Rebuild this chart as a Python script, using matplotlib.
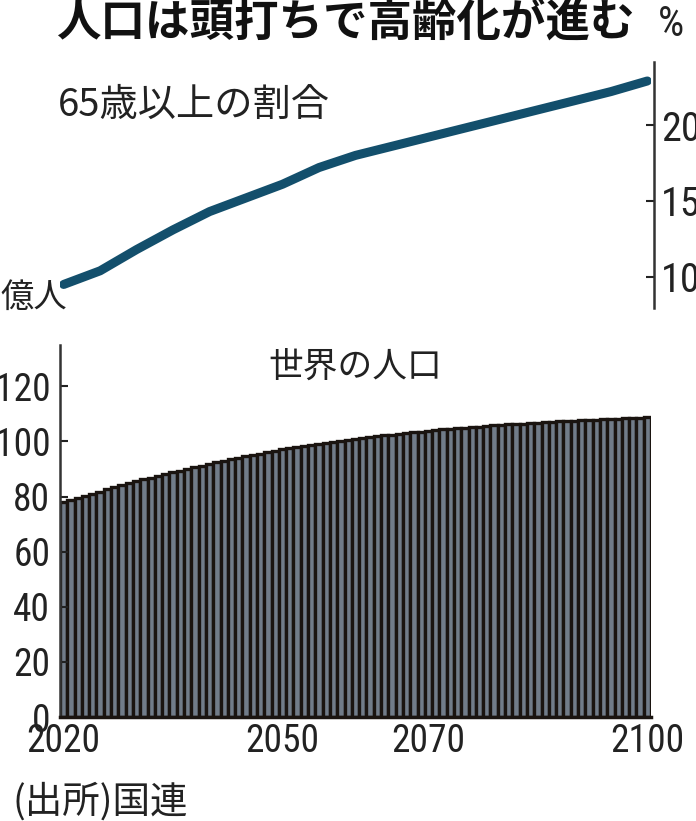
import matplotlib
matplotlib.use("Agg")
import matplotlib.pyplot as plt

plt.rcParams['font.family'] = ['Noto Sans CJK JP', 'DejaVu Sans']
NUM_FONT = ['Roboto Condensed', 'Liberation Sans Narrow', 'DejaVu Sans']

# world population, 100 million people (億人), 2020-2100
years = list(range(2020, 2101))
population = [
    77.9, 78.8, 79.5, 80.3, 81.1, 81.8, 82.6, 83.3, 84.1, 84.8,
    85.5, 86.2, 86.8, 87.5, 88.1, 88.8, 89.4, 90.0, 90.6, 91.2,
    91.9, 92.4, 93.0, 93.5, 94.1, 94.6, 95.1, 95.6, 96.1, 96.6,
    97.1, 97.5, 97.9, 98.4, 98.8, 99.2, 99.5, 99.9, 100.3, 100.6,
    101.0, 101.3, 101.6, 101.9, 102.2, 102.5, 102.8, 103.1, 103.4, 103.6,
    103.9, 104.1, 104.4, 104.6, 104.8, 105.0, 105.2, 105.4, 105.6, 105.8,
    106.0, 106.2, 106.4, 106.5, 106.7, 106.8, 107.0, 107.1, 107.3, 107.4,
    107.5, 107.7, 107.8, 107.9, 108.0, 108.1, 108.3, 108.4, 108.5, 108.6, 108.8,
]

# share of people aged 65+ (%)
share_years = [2020, 2025, 2030, 2035, 2040, 2045, 2050, 2055, 2060,
               2065, 2070, 2075, 2080, 2085, 2090, 2095, 2100]
share_65 = [9.5, 10.4, 11.8, 13.1, 14.3, 15.2, 16.1, 17.2, 18.0,
            18.6, 19.2, 19.8, 20.4, 21.0, 21.6, 22.2, 22.9]

pop_ticks = [0, 20, 40, 60, 80, 100, 120]
share_ticks = [10, 15, 20]
year_ticks = [2020, 2050, 2070, 2100]

W, H = 696, 821
fig = plt.figure(figsize=(W / 100, H / 100), dpi=100)


def px(x, y):
    return x / W, 1 - y / H


def ax_rect(x0, y0, x1, y1):
    return [x0 / W, 1 - y1 / H, (x1 - x0) / W, (y1 - y0) / H]


# top: 65+ share line
ax_top = fig.add_axes(ax_rect(60, 62, 651, 308))
ax_top.plot(share_years, share_65, color='#134f6c', lw=6.5, solid_capstyle='round',
            solid_joinstyle='round')
ax_top.set_xlim(2019.5, 2100.5)
ax_top.set_ylim(7.95, 24.15)
for s in ['top', 'left', 'bottom']:
    ax_top.spines[s].set_visible(False)
ax_top.spines['right'].set_linewidth(1.8)
ax_top.spines['right'].set_color('#333333')
ax_top.spines['right'].set_position(('data', 2100.9))
ax_top.set_xticks([])
ax_top.yaxis.tick_right()
ax_top.set_yticks(share_ticks)
ax_top.set_yticklabels([str(v) for v in share_ticks], family=NUM_FONT, fontsize=29)
ax_top.tick_params(axis='y', direction='in', length=6, width=1.5, pad=5, colors='#222222')
ax_top.set_facecolor('none')

# bottom: population bars
ax_bot = fig.add_axes(ax_rect(60, 345, 651, 717))
ax_bot.bar(years, population, width=1.0, color='#717c89', edgecolor='#1a1410', linewidth=2.4)
ax_bot.set_xlim(2019.5, 2100.5)
ax_bot.set_ylim(0, 135)
for s in ['top', 'right']:
    ax_bot.spines[s].set_visible(False)
ax_bot.spines['left'].set_linewidth(1.8)
ax_bot.spines['left'].set_color('#333333')
ax_bot.spines['bottom'].set_linewidth(2.5)
ax_bot.spines['bottom'].set_color('#1a1410')
ax_bot.set_yticks(pop_ticks)
ax_bot.set_yticklabels([str(v) for v in pop_ticks], family=NUM_FONT, fontsize=27)
ax_bot.tick_params(axis='y', direction='in', length=6, width=1.5, pad=7, colors='#222222')
ax_bot.set_xticks(year_ticks)
ax_bot.set_xticklabels([str(v) for v in year_ticks], family=NUM_FONT, fontsize=27)
ax_bot.tick_params(axis='x', length=0, pad=4, colors='#222222')

# texts
fig.text(*px(345, 24), '人口は頭打ちで高齢化が進む', fontsize=32, fontweight='bold',
         ha='center', va='center', color='#111111')
fig.text(*px(671, 25), '%', fontsize=30, ha='center', va='center', color='#222222',
         family=NUM_FONT)
fig.text(*px(58, 105), '65歳以上の割合', fontsize=27.5, ha='left', va='center', color='#222222')
fig.text(*px(0, 297), '億人', fontsize=24, ha='left', va='center', color='#222222')
fig.text(*px(355, 367), '世界の人口', fontsize=25, ha='center', va='center', color='#222222')
fig.text(*px(12, 802), '(出所)国連', fontsize=27, ha='left', va='center', color='#222222')

fig.savefig('out.png', dpi=100)
